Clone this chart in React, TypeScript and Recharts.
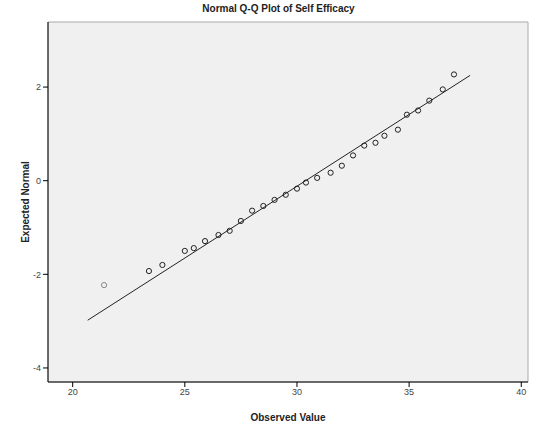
import React from 'react';
import {
  ScatterChart, Scatter, XAxis, YAxis, ReferenceLine, ReferenceArea,
} from 'recharts';

// observed score vs expected normal value
const observed = [
  21.4, 23.4, 24.0, 25.0, 25.4, 25.9, 26.5, 27.0, 27.5, 28.0, 28.5, 29.0, 29.5, 30.0,
  30.4, 30.9, 31.5, 32.0, 32.5, 33.0, 33.5, 33.9, 34.5, 34.9, 35.4, 35.9, 36.5, 37.0,
];
const expected = [
  -2.23, -1.93, -1.8, -1.5, -1.44, -1.29, -1.16, -1.07, -0.86, -0.64, -0.54, -0.41, -0.3, -0.17,
  -0.04, 0.06, 0.17, 0.32, 0.54, 0.75, 0.81, 0.96, 1.09, 1.41, 1.5, 1.71, 1.95, 2.27,
];
const lineX = [20.67, 37.72];
const lineY = [-2.98, 2.25];
const xTicks = [20, 25, 30, 35, 40];
const yTicks = [-4, -2, 0, 2];

const points = observed.map((x, i) => ({ x, y: expected[i] }));
const X_DOMAIN: [number, number] = [18.9, 40.3];
const Y_DOMAIN: [number, number] = [-4.3, 3.39];

const font = '"Liberation Sans", Arial, sans-serif';

const Ring = (props: any) => {
  const { cx, cy, index } = props;
  return (
    <circle cx={cx} cy={cy} r={2.6} fill="none"
      stroke={index === 0 ? '#888' : '#222'} strokeWidth={1} />
  );
};

export default function App() {
  return (
    <div style={{ position: 'absolute', left: 0, top: 0, width: 533, height: 428, background: '#fff', fontFamily: font }}>
      <div style={{ position: 'absolute', top: 3, left: 0, width: 533, textAlign: 'center', fontSize: 10, fontWeight: 'bold', color: '#222', paddingLeft: 12 }}>
        Normal Q-Q Plot of Self Efficacy
      </div>
      <ScatterChart width={533} height={428} margin={{ top: 22, right: 5, bottom: 0, left: 0 }}>
        <XAxis
          type="number" dataKey="x" domain={X_DOMAIN} ticks={xTicks} allowDataOverflow
          stroke="#000" tick={{ fontSize: 9, fill: '#444', fontFamily: font }} tickSize={5} height={46}
          label={{ value: 'Observed Value', position: 'insideBottom', offset: 7, fontSize: 10, fontWeight: 'bold', fill: '#222', fontFamily: font }}
        />
        <YAxis
          type="number" dataKey="y" domain={Y_DOMAIN} ticks={yTicks} allowDataOverflow
          stroke="#000" tick={{ fontSize: 9, fill: '#444', fontFamily: font }} tickSize={5} width={48}
          label={{ value: 'Expected Normal', angle: -90, position: 'insideLeft', offset: 25, fontSize: 10, fontWeight: 'bold', fill: '#222', fontFamily: font, style: { textAnchor: 'middle' } }}
        />
        <ReferenceArea x1={X_DOMAIN[0]} x2={X_DOMAIN[1]} y1={Y_DOMAIN[0]} y2={Y_DOMAIN[1]}
          fill="#f0f0f0" fillOpacity={1} stroke="#aaa" strokeWidth={1} />
        <ReferenceLine
          segment={[{ x: lineX[0], y: lineY[0] }, { x: lineX[1], y: lineY[1] }]}
          stroke="#222" strokeWidth={1}
        />
        <Scatter data={points} shape={Ring} isAnimationActive={false} />
      </ScatterChart>
    </div>
  );
}
